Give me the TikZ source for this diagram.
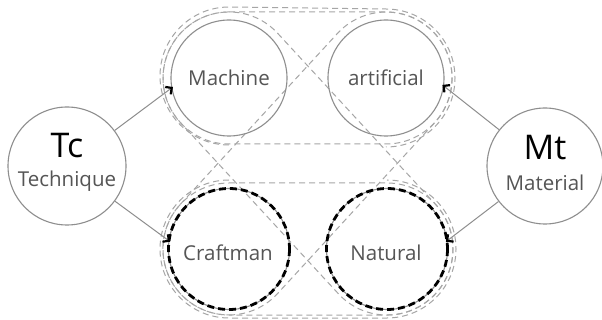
\documentclass[tikz,border=0pt]{standalone}
\usepackage{fontspec}
\setmainfont{Open Sans}
\usetikzlibrary{arrows.meta}
\definecolor{ringgray}{HTML}{8E8E8E}
\definecolor{hullgray}{HTML}{A6A6A6}
\definecolor{labelgray}{HTML}{555555}
\begin{document}
\begin{tikzpicture}[x=1pt,y=-1pt,
  ring/.style={circle, draw=ringgray, line width=1.1pt, inner sep=0pt,
    minimum size=#1, text=labelgray, font=\fontsize{20.5}{24}\selectfont},
  craft/.style={draw=black, line width=2.8pt, dash pattern=on 7pt off 4pt},
  hull/.style={draw=hullgray, line width=1pt, dash pattern=on 6pt off 4pt},
  link/.style={draw=ringgray, line width=1pt, shorten >=-2pt,
    -{Straight Barb[angle=90:6.5pt, black, line width=2.2pt]}},
  bigname/.style={font=\fontsize{34}{38}\selectfont, text=black},
  subname/.style={font=\fontsize{20.5}{24}\selectfont, text=labelgray}]
\useasboundingbox (0,0) rectangle (602,320);
\fill[white] (0,0) rectangle (602,320);

% the four pair hulls (stadium outlines, radius 66)
\def\hull#1#2#3#4{% centre x, centre y, rotation, half length
  \begin{scope}[shift={(#1,#2)}, rotate=#3]
    \draw[hull] (-#4,-66) -- (#4,-66) arc[start angle=-90, end angle=90, radius=66]
      -- (-#4,66) arc[start angle=90, end angle=270, radius=66] -- cycle;
  \end{scope}}
\hull{307.5}{78}{0}{78.5}
\hull{308}{249}{0}{79}
\hull{308}{163.5}{-47.3}{116.4}
\hull{307.5}{163.5}{47.4}{116.1}
% second, outer line along the far edges of the top and bottom hulls
\draw[hull] (229,145) arc[start angle=90, end angle=270, radius=69]
  -- (386,9) arc[start angle=-90, end angle=90, radius=69];
\draw[hull] (229,180) arc[start angle=-90, end angle=-270, radius=69]
  -- (387,318) arc[start angle=90, end angle=-90, radius=69];

% value circles
\node[ring=116pt] (machine) at (229,78) {Machine};
\node[ring=116pt] (artificial) at (386,78) {artificial};
\node[ring=121pt] (craftman) at (229,249) {};
\node[ring=121pt] (natural) at (387,249) {};
\draw[craft] (craftman.center) circle[radius=60.5];
\draw[craft] (natural.center) circle[radius=60.5];
\node[text=labelgray, font=\fontsize{20.5}{24}\selectfont] at (228,253) {Craftman};
\node[text=labelgray, font=\fontsize{20.5}{24}\selectfont] at (386,253) {Natural};

% the two factor circles
\node[ring=118pt] (tc) at (67,166) {};
\node[bigname] at (67,146) {Tc};
\node[subname] at (67,181) {Technique};
\node[ring=116pt] (mt) at (545,166) {};
\node[bigname] at (545,148) {Mt};
\node[subname] at (545,183) {Material};

% links
\draw[link] (tc) -- (machine.190);
\draw[link] (tc) -- (craftman.172);
\draw[link] (mt) -- (artificial.352);
\draw[link] (mt) -- (natural.8);
\end{tikzpicture}
\end{document}
